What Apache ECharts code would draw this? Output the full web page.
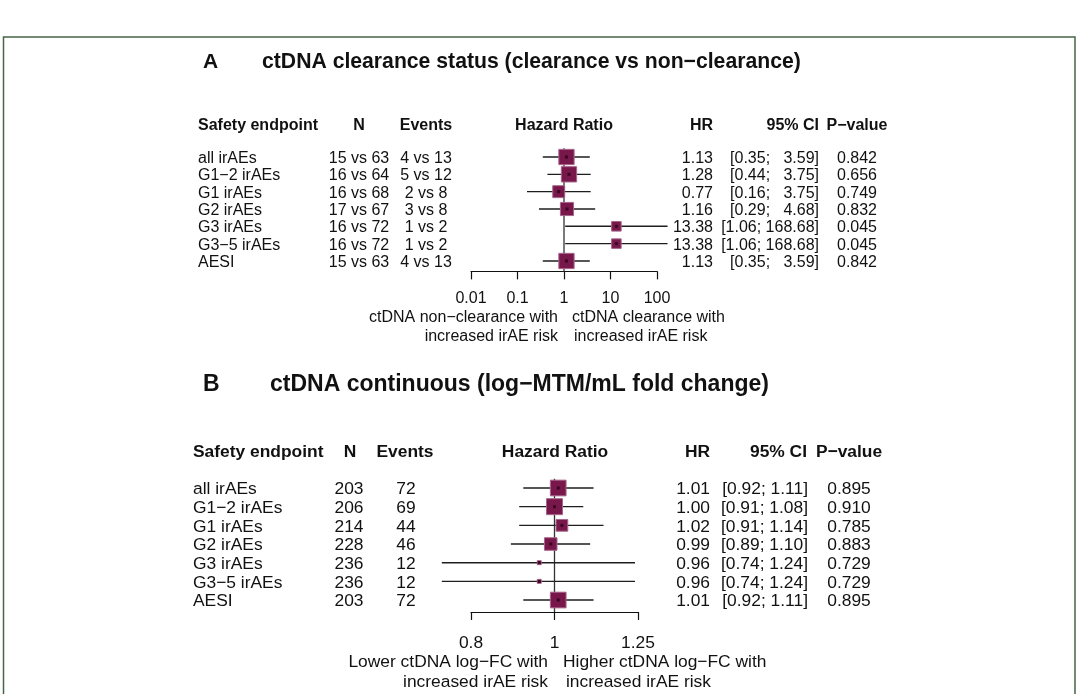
<!DOCTYPE html>
<html><head><meta charset="utf-8">
<script src="https://cdn.jsdelivr.net/npm/echarts@6/dist/echarts.min.js"></script>
<style>html,body{margin:0;padding:0;background:#fff}#c{width:1080px;height:694px}</style>
</head><body><div id="c"></div>
<script>
// ---------- data ----------
const endpoints = ['all irAEs','G1−2 irAEs','G1 irAEs','G2 irAEs','G3 irAEs','G3−5 irAEs','AESI'];
// Panel A: ctDNA clearance status
const nA      = ['15 vs 63','16 vs 64','16 vs 68','17 vs 67','16 vs 72','16 vs 72','15 vs 63'];
const eventsA = ['4 vs 13','5 vs 12','2 vs 8','3 vs 8','1 vs 2','1 vs 2','4 vs 13'];
const hrA     = [1.13, 1.28, 0.77, 1.16, 13.38, 13.38, 1.13];
const loA     = [0.35, 0.44, 0.16, 0.29, 1.06, 1.06, 0.35];
const hiA     = [3.59, 3.75, 3.75, 4.68, 168.68, 168.68, 3.59];
const pA      = ['0.842','0.656','0.749','0.832','0.045','0.045','0.842'];
const weightA = [23, 23, 14, 17, 9, 9, 23];
const ticksA  = [0.01, 0.1, 1, 10, 100];
// Panel B: ctDNA continuous
const nB      = [203, 206, 214, 228, 236, 236, 203];
const eventsB = [72, 69, 44, 46, 12, 12, 72];
const hrB     = [1.01, 1.00, 1.02, 0.99, 0.96, 0.96, 1.01];
const loB     = [0.92, 0.91, 0.91, 0.89, 0.74, 0.74, 0.92];
const hiB     = [1.11, 1.08, 1.14, 1.10, 1.24, 1.24, 1.11];
const pB      = ['0.895','0.910','0.785','0.883','0.729','0.729','0.895'];
const weightB = [25, 26, 14, 16, 1.6, 1.6, 25];
const ticksB  = [0.8, 1, 1.25];

// ---------- helpers ----------
const FONT = '"Liberation Sans", Arial, Helvetica, sans-serif';
const lg = Math.log10;
const DY = 1.5;
function fmtTick(ticks){ return v => { for (const t of ticks) if (Math.abs(lg(t)-v) < 1e-6) return String(t); return ''; }; }
function forestItem(maxSide, wmax){
  return function(params, api){
    const est=api.value(0), row=api.value(1), lo=api.value(2), hi=api.value(3), w=api.value(4);
    const pc=api.coord([est,row]), pl=api.coord([lo,row]), ph=api.coord([hi,row]);
    const s=maxSide*Math.sqrt(w/wmax);
    return {type:'group', children:[
      {type:'line', shape:{x1:pl[0],y1:pl[1],x2:ph[0],y2:ph[1]}, style:{stroke:'#1e1e1e',lineWidth:1.4}},
      {type:'rect', shape:{x:pc[0]-s/2,y:pc[1]-s/2,width:s,height:s}, style:{fill:'#78184a',stroke:'#a8658c',lineWidth:1}},
      {type:'rect', shape:{x:pc[0]-1.5,y:pc[1]-1.5,width:3,height:3}, style:{fill:'#3a0620'}}
    ]};
  };
}
function ciStr(lo, hi, w){ let h=hi.toFixed(2); while(h.length<w) h=' '+h; return '['+lo.toFixed(2)+'; '+h+']'; }
function T(x, y, s, size, align, bold){
  return {type:'text', x:x, y:y+DY, silent:true, style:{text:String(s), fill:'#111',
    font:(bold?'bold ':'')+size+'px '+FONT, textAlign:align||'left', align:align||'left',
    textVerticalAlign:'middle', verticalAlign:'middle'}};
}

const YMAXA = 6.6, YMAXB = 6.64;
const FA = 16, FB = 17.4;
const chart = echarts.init(document.getElementById('c'), null, {renderer:'canvas'});
function xAxisCfg(gi, ticks, min, max, size, margin){
  return {gridIndex:gi, type:'value', min:min, max:max,
    axisLine:{show:true, onZero:false, lineStyle:{color:'#111', width:1.2}},
    axisTick:{show:true, inside:false, length:8, lineStyle:{color:'#111', width:1.2}, customValues:ticks.map(lg)},
    axisLabel:{show:true, margin:margin, color:'#111', fontSize:size, fontFamily:FONT, formatter:fmtTick(ticks), customValues:ticks.map(lg), showMinLabel:true, showMaxLabel:true},
    splitLine:{show:false}};
}
chart.setOption({
  animation:false,
  backgroundColor:'#fff',
  grid:[
    {left:471, right:1080-657, top:157-0.5*17.33, height:(YMAXA+0.5)*17.33},
    {left:471, right:1080-638, top:488-0.5*18.67, height:(YMAXB+0.5)*18.67}
  ],
  xAxis:[
    xAxisCfg(0, ticksA, lg(ticksA[0]), lg(ticksA[ticksA.length-1]), FA, 19),
    xAxisCfg(1, ticksB, lg(ticksB[0]), lg(ticksB[ticksB.length-1]), FB, 23)
  ],
  yAxis:[
    {gridIndex:0, type:'value', inverse:true, min:-0.5, max:YMAXA, show:false},
    {gridIndex:1, type:'value', inverse:true, min:-0.5, max:YMAXB, show:false}
  ],
  series:[
    {type:'line', xAxisIndex:0, yAxisIndex:0, data:[[0,-0.5],[0,YMAXA]], symbol:'none', silent:true, z:1, lineStyle:{color:'#333', width:1.3}},
    {type:'line', xAxisIndex:1, yAxisIndex:1, data:[[0,-0.5],[0,YMAXB]], symbol:'none', silent:true, z:1, lineStyle:{color:'#333', width:1.3}},
    {type:'custom', xAxisIndex:0, yAxisIndex:0, z:3, clip:false, renderItem:forestItem(15.3, Math.max(...weightA)),
      data: hrA.map((h,i)=>[lg(h), i, lg(loA[i]), lg(hiA[i]), weightA[i]])},
    {type:'custom', xAxisIndex:1, yAxisIndex:1, z:3, clip:false, renderItem:forestItem(16, Math.max(...weightB)),
      data: hrB.map((h,i)=>[lg(h), i, lg(loB[i]), lg(hiB[i]), weightB[i]])}
  ]
});

// ---------- text table ----------
const g = [];
g.push({type:'rect', shape:{x:3.5, y:37, width:1071.5, height:720}, style:{fill:'none', stroke:'#466646', lineWidth:1.5}, silent:true});
// Panel A
g.push(T(203, 61, 'A', 21, 'left', true));
g.push(T(262, 61, 'ctDNA clearance status (clearance vs non−clearance)', 21.2, 'left', true));
const hA = 124;
g.push(T(198, hA, 'Safety endpoint', FA, 'left', true));
g.push(T(359, hA, 'N', FA, 'center', true));
g.push(T(426, hA, 'Events', FA, 'center', true));
g.push(T(564, hA, 'Hazard Ratio', FA, 'center', true));
g.push(T(713, hA, 'HR', FA, 'right', true));
g.push(T(819, hA, '95% CI', FA, 'right', true));
g.push(T(857, hA, 'P−value', FA, 'center', true));
const wA = Math.max(...hiA.map(v=>v.toFixed(2).length));
endpoints.forEach((e,i)=>{
  const y = chart.convertToPixel({gridIndex:0}, [0, i])[1];
  g.push(T(198, y, e, FA, 'left'));
  g.push(T(359, y, nA[i], FA, 'center'));
  g.push(T(426, y, eventsA[i], FA, 'center'));
  g.push(T(713, y, hrA[i].toFixed(2), FA, 'right'));
  g.push(T(819, y, ciStr(loA[i], hiA[i], wA), FA, 'right'));
  g.push(T(857, y, pA[i], FA, 'center'));
});
g.push(T(558, 316, 'ctDNA non−clearance with', FA, 'right'));
g.push(T(558, 335, 'increased irAE risk', FA, 'right'));
g.push(T(572, 316, 'ctDNA clearance with', FA, 'left'));
g.push(T(574, 335, 'increased irAE risk', FA, 'left'));
// Panel B
g.push(T(203, 383, 'B', 23, 'left', true));
g.push(T(270, 383, 'ctDNA continuous (log−MTM/mL fold change)', 23, 'left', true));
const hB = 451;
g.push(T(193, hB, 'Safety endpoint', FB, 'left', true));
g.push(T(350, hB, 'N', FB, 'center', true));
g.push(T(405, hB, 'Events', FB, 'center', true));
g.push(T(555, hB, 'Hazard Ratio', FB, 'center', true));
g.push(T(710, hB, 'HR', FB, 'right', true));
g.push(T(807, hB, '95% CI', FB, 'right', true));
g.push(T(849, hB, 'P−value', FB, 'center', true));
const wB = Math.max(...hiB.map(v=>v.toFixed(2).length));
endpoints.forEach((e,i)=>{
  const y = chart.convertToPixel({gridIndex:1}, [0, i])[1];
  g.push(T(193, y, e, FB, 'left'));
  g.push(T(349, y, nB[i], FB, 'center'));
  g.push(T(406, y, eventsB[i], FB, 'center'));
  g.push(T(710, y, hrB[i].toFixed(2), FB, 'right'));
  g.push(T(808, y, ciStr(loB[i], hiB[i], wB), FB, 'right'));
  g.push(T(849, y, pB[i], FB, 'center'));
});
g.push(T(548, 661, 'Lower ctDNA log−FC with', FB, 'right'));
g.push(T(548, 681, 'increased irAE risk', FB, 'right'));
g.push(T(563, 661, 'Higher ctDNA log−FC with', FB, 'left'));
g.push(T(566, 681, 'increased irAE risk', FB, 'left'));
chart.setOption({graphic:{elements:g}});
</script>
</body></html>
